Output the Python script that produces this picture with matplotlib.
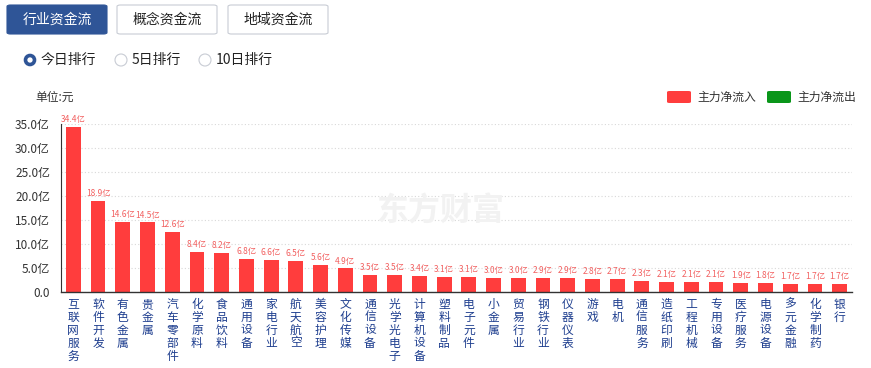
import numpy as np
import matplotlib
matplotlib.use('Agg')
import matplotlib.pyplot as plt
from matplotlib.patches import FancyBboxPatch, Ellipse

plt.rcParams['font.family'] = ['Noto Sans CJK SC', 'DejaVu Sans']

categories = ['互联网服务', '软件开发', '有色金属', '贵金属', '汽车零部件', '化学原料',
              '食品饮料', '通用设备', '家电行业', '航天航空', '美容护理', '文化传媒',
              '通信设备', '光学光电子', '计算机设备', '塑料制品', '电子元件', '小金属',
              '贸易行业', '钢铁行业', '仪器仪表', '游戏', '电机', '通信服务',
              '造纸印刷', '工程机械', '专用设备', '医疗服务', '电源设备', '多元金融',
              '化学制药', '银行']
values = [34.4, 18.9, 14.6, 14.5, 12.6, 8.4, 8.2, 6.8, 6.6, 6.5, 5.6, 4.9,
          3.5, 3.5, 3.4, 3.1, 3.1, 3.0, 3.0, 2.9, 2.9, 2.8, 2.7, 2.3,
          2.1, 2.1, 2.1, 1.9, 1.8, 1.7, 1.7, 1.7]
yticks = [0, 5, 10, 15, 20, 25, 30, 35]
tabs = ['行业资金流', '概念资金流', '地域资金流']
ranks = ['今日排行', '5日排行', '10日排行']

W, H = 871, 368
red = '#ff3d3d'
green = '#0a961a'
navy = '#1f3f8f'

fig = plt.figure(figsize=(W / 100, H / 100), dpi=100)

def fx(px):
    return px / W

def fy(py):
    return 1 - py / H

# tabs on top
tab_x = [7, 117, 228]
for i, (t, x0) in enumerate(zip(tabs, tab_x)):
    if i == 0:
        fc, ec, tc = '#2f5597', '#2f5597', 'white'
    else:
        fc, ec, tc = 'white', '#c8ccd4', '#222222'
    box = FancyBboxPatch((fx(x0), fy(34)), fx(100), fy(5) - fy(34),
                         boxstyle='round,pad=0,rounding_size=0.004',
                         transform=fig.transFigure, fc=fc, ec=ec, lw=0.8)
    fig.patches.append(box)
    fig.text(fx(x0 + 50), fy(19.5), t, ha='center', va='center', fontsize=10, color=tc)

# radio buttons
radio_x = [30, 121, 205]
for i, (r, x0) in enumerate(zip(ranks, radio_x)):
    if i == 0:
        c = Ellipse((fx(x0), fy(60)), 9 / W, 9 / H, transform=fig.transFigure,
                    fc='white', ec='#2f5597', lw=2.6)
    else:
        c = Ellipse((fx(x0), fy(60)), 12 / W, 12 / H, transform=fig.transFigure,
                    fc='white', ec='#c8ccd4', lw=0.8)
    fig.patches.append(c)
    fig.text(fx(x0 + 11), fy(60), r, ha='left', va='center', fontsize=10, color='#222222')

fig.text(fx(35), fy(97), '单位:元', ha='left', va='center', fontsize=8.5, color='#333333')

# legend
for x0, col, lab in [(667, red, '主力净流入'), (767, green, '主力净流出')]:
    lb = FancyBboxPatch((fx(x0), fy(103)), fx(24), fy(91) - fy(103),
                        boxstyle='round,pad=0,rounding_size=0.003',
                        transform=fig.transFigure, fc=col, ec='none')
    fig.patches.append(lb)
    fig.text(fx(x0 + 30), fy(97), lab, ha='left', va='center', fontsize=8.5, color='#333333')

# watermark
fig.text(fx(440), fy(212), '东方财富', ha='center', va='center', fontsize=23,
         fontweight='bold', color='#f2f2f2', style='italic', zorder=0)

ax = fig.add_axes([fx(61), fy(292), fx(852) - fx(61), fy(124) - fy(292)])
ax.set_facecolor('none')
x = np.arange(len(categories))
ax.bar(x, values, width=0.6, color=red, zorder=2)
for xi, v in zip(x, values):
    ax.text(xi, v + 0.6, f'{v}亿', ha='center', va='bottom', fontsize=6, color='#f26060')

ax.set_xlim(-0.5, len(categories) - 0.5)
ax.set_ylim(0, 35)
ax.set_yticks(yticks)
ax.set_yticklabels(['0.0' if v == 0 else f'{v:.1f}亿' for v in yticks],
                   fontsize=8.5, color='#333333')
ax.tick_params(axis='y', length=0, pad=8)
ax.set_xticks(x)
ax.set_xticklabels(['\n'.join(c) for c in categories], fontsize=8.5, color=navy,
                   va='top', linespacing=1.0)
ax.tick_params(axis='x', length=0, pad=4)
ax.grid(axis='y', linestyle=(0, (1, 2)), color='#d8d8d8', lw=0.8, zorder=0)
for s in ['top', 'right']:
    ax.spines[s].set_visible(False)
ax.spines['left'].set_color('#333333')
ax.spines['left'].set_linewidth(0.8)
ax.spines['bottom'].set_color('#333333')
ax.spines['bottom'].set_linewidth(1.0)

fig.savefig('out.png', dpi=100)
